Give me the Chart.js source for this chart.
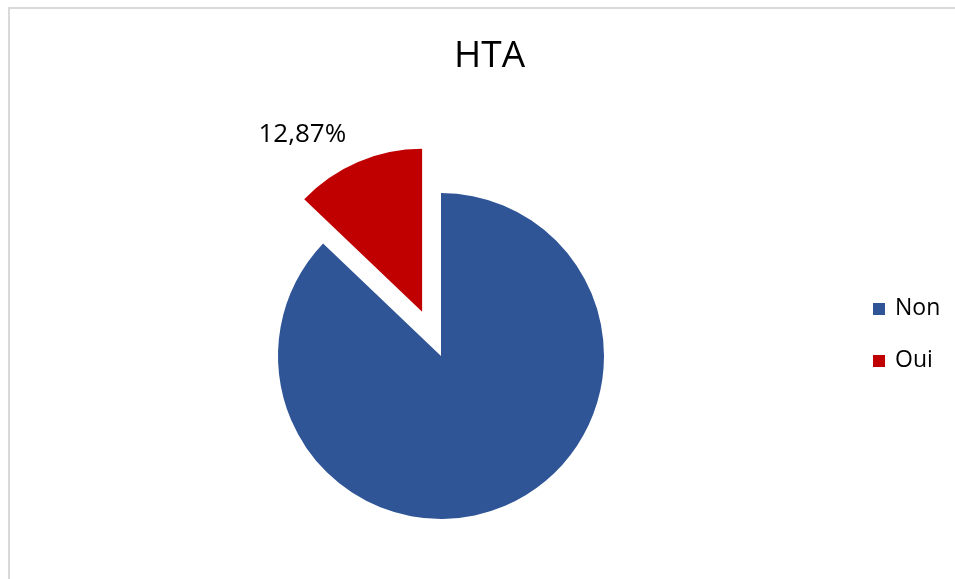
<!DOCTYPE html>
<html lang="fr">
<head>
<meta charset="utf-8">
<title>HTA</title>
<script src="https://cdn.jsdelivr.net/npm/chart.js@4.4.1/dist/chart.umd.min.js"></script>
<style>
  html, body { margin: 0; padding: 0; background: #fff; overflow: hidden; }
  .frame {
    position: absolute; left: 8px; top: 7px; width: 1100px; height: 700px;
    border-left: 2px solid #d9d9d9; border-top: 2px solid #d9d9d9;
  }
  #hta { position: absolute; left: 0; top: 0; }
</style>
</head>
<body>
<div class="frame"></div>
<canvas id="hta" width="955" height="579"></canvas>
<script>
const labels = ["Non", "Oui"];
const values = [87.13, 12.87];
const colors = ["#2F5597", "#C00000"];
// how far each slice is pulled out of the pie, in px
const explode = [0, 48];
// only the "Oui" slice carries a value label
const showLabel = [false, true];

const titleText = "HTA";
const FONT = "'Open Sans', 'DejaVu Sans', sans-serif";

// French number format: 12,87%
const fmtPct = (v) => v.toFixed(2).replace(".", ",") + "%";

// Chart.js' own arc offset also grows the slice radius, so the arcs are
// drawn here with a plain translation along their mid angle instead.
const explodedArcs = {
  id: "explodedArcs",
  beforeDatasetDraw(chart, args) {
    const ctx = chart.ctx;
    args.meta.data.forEach((arc, i) => {
      const mid = (arc.startAngle + arc.endAngle) / 2;
      const d = explode[i] || 0;
      ctx.save();
      ctx.translate(Math.cos(mid) * d, Math.sin(mid) * d);
      arc.draw(ctx, chart.chartArea);
      ctx.restore();
    });
    return false;
  }
};

// Title, legend and slice labels drawn on top of the pie
const decorations = {
  id: "decorations",
  afterDraw(chart) {
    const ctx = chart.ctx;
    const ds = chart.data.datasets[0];
    const meta = chart.getDatasetMeta(0);
    ctx.save();
    ctx.fillStyle = "#000";

    // title
    ctx.font = "37px " + FONT;
    ctx.textAlign = "center";
    ctx.textBaseline = "alphabetic";
    ctx.fillText(titleText, 489.5, 67);

    // data labels, outside end of the exploded slice
    ctx.font = "26px " + FONT;
    ctx.textAlign = "right";
    ctx.textBaseline = "middle";
    meta.data.forEach((arc, i) => {
      if (!showLabel[i]) return;
      const p = arc.getProps(["x", "y", "startAngle", "endAngle", "outerRadius"], true);
      const mid = (p.startAngle + p.endAngle) / 2;
      const r = (explode[i] || 0) + p.outerRadius + 30;
      ctx.fillText(fmtPct(ds.data[i]), p.x + Math.cos(mid) * r, p.y + Math.sin(mid) * r);
    });

    // legend
    ctx.font = "23px " + FONT;
    ctx.textAlign = "left";
    ctx.textBaseline = "alphabetic";
    chart.data.labels.forEach((lab, i) => {
      const base = 315 + i * 52;
      ctx.fillStyle = ds.backgroundColor[i];
      ctx.fillRect(873, base - 12, 12, 12);
      ctx.fillStyle = "#000";
      ctx.fillText(lab, 895, base);
    });
    ctx.restore();
  }
};

new Chart(document.getElementById("hta"), {
  type: "pie",
  data: {
    labels: labels,
    datasets: [
      {
        data: values,
        backgroundColor: colors,
        borderWidth: 0,
        hoverOffset: 0,
        radius: 163,
      },
    ],
  },
  options: {
    responsive: false,
    animation: false,
    devicePixelRatio: 1,
    layout: {
      padding: { left: 253, right: 326, top: 168, bottom: 35 },
    },
    plugins: {
      legend: { display: false },
      title: { display: false },
      tooltip: { enabled: false },
    },
    events: [],
  },
  plugins: [explodedArcs, decorations],
});
</script>
</body>
</html>
